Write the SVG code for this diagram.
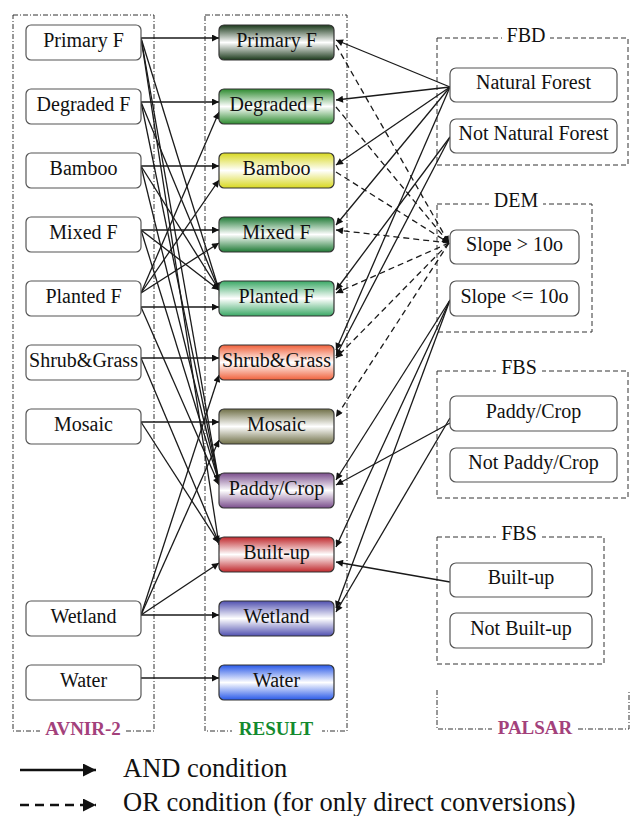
<svg xmlns="http://www.w3.org/2000/svg" width="630" height="816" viewBox="0 0 630 816">
<style>
text{font-family:'Liberation Serif','Times New Roman',serif}
.n{fill:#fff;stroke:#555;stroke-width:1.2}
.r{stroke:#333;stroke-width:1.2}
.t{font-size:20px;fill:#111;text-anchor:middle}
.lb{font-size:19px;font-weight:bold;text-anchor:middle}
.gl{font-size:20px;fill:#111;text-anchor:middle}
.lg{font-size:26.5px;fill:#111}
.c{stroke:#1a1a1a;stroke-width:1.3;fill:none;marker-end:url(#ah)}
.d{stroke-dasharray:6 4}
.gb{fill:none;stroke:#333;stroke-width:1;stroke-dasharray:5 3}
.dd{fill:none;stroke:#333;stroke-width:1;stroke-dasharray:5 2 1 2}
</style>
<defs>
<marker id="ah" viewBox="0 0 10 10" refX="10" refY="5" markerWidth="10" markerHeight="7" markerUnits="userSpaceOnUse" orient="auto"><path d="M0,0 L10,5 L0,10 z" fill="#111"/></marker>
<marker id="ahL" viewBox="0 0 10 10" refX="10" refY="5" markerWidth="16" markerHeight="13" markerUnits="userSpaceOnUse" orient="auto"><path d="M0,0 L10,5 L0,10 z" fill="#111"/></marker>
<linearGradient id="g1" x1="0" y1="0" x2="0" y2="1"><stop offset="0" stop-color="#1c3a1c"/><stop offset="0.5" stop-color="#fff"/><stop offset="1" stop-color="#1c3a1c"/></linearGradient>
<linearGradient id="g2" x1="0" y1="0" x2="0" y2="1"><stop offset="0" stop-color="#2e8b30"/><stop offset="0.5" stop-color="#fff"/><stop offset="1" stop-color="#2e8b30"/></linearGradient>
<linearGradient id="g3" x1="0" y1="0" x2="0" y2="1"><stop offset="0" stop-color="#d8d820"/><stop offset="0.5" stop-color="#fff"/><stop offset="1" stop-color="#d8d820"/></linearGradient>
<linearGradient id="g4" x1="0" y1="0" x2="0" y2="1"><stop offset="0" stop-color="#1f7a35"/><stop offset="0.5" stop-color="#fff"/><stop offset="1" stop-color="#1f7a35"/></linearGradient>
<linearGradient id="g5" x1="0" y1="0" x2="0" y2="1"><stop offset="0" stop-color="#3aa865"/><stop offset="0.5" stop-color="#fff"/><stop offset="1" stop-color="#3aa865"/></linearGradient>
<linearGradient id="g6" x1="0" y1="0" x2="0" y2="1"><stop offset="0" stop-color="#f0603a"/><stop offset="0.5" stop-color="#fff"/><stop offset="1" stop-color="#f0603a"/></linearGradient>
<linearGradient id="g7" x1="0" y1="0" x2="0" y2="1"><stop offset="0" stop-color="#707048"/><stop offset="0.5" stop-color="#fff"/><stop offset="1" stop-color="#707048"/></linearGradient>
<linearGradient id="g8" x1="0" y1="0" x2="0" y2="1"><stop offset="0" stop-color="#7a4d8c"/><stop offset="0.5" stop-color="#fff"/><stop offset="1" stop-color="#7a4d8c"/></linearGradient>
<linearGradient id="g9" x1="0" y1="0" x2="0" y2="1"><stop offset="0" stop-color="#c0282c"/><stop offset="0.5" stop-color="#fff"/><stop offset="1" stop-color="#c0282c"/></linearGradient>
<linearGradient id="g10" x1="0" y1="0" x2="0" y2="1"><stop offset="0" stop-color="#5050b0"/><stop offset="0.5" stop-color="#fff"/><stop offset="1" stop-color="#5050b0"/></linearGradient>
<linearGradient id="g11" x1="0" y1="0" x2="0" y2="1"><stop offset="0" stop-color="#2858e8"/><stop offset="0.5" stop-color="#fff"/><stop offset="1" stop-color="#2858e8"/></linearGradient>
</defs>
<rect width="630" height="816" fill="#fff"/>

<g id="groups">
<rect class="dd" x="13" y="15" width="141" height="716"/>
<rect x="40" y="720" width="86" height="20" fill="#fff"/>
<text class="lb" x="83" y="735" fill="#a3417b">AVNIR-2</text>
<rect class="dd" x="205" y="15" width="142" height="716"/>
<rect x="232" y="720" width="90" height="20" fill="#fff"/>
<text class="lb" x="276" y="735" fill="#138a2e">RESULT</text>
<path class="dd" d="M437,690 V729 H629 V690"/>
<rect x="492" y="720" width="86" height="20" fill="#fff"/>
<text class="lb" x="535" y="734" fill="#a3417b">PALSAR</text>
<rect class="gb" x="437" y="38" width="191" height="127"/>
<rect x="502" y="26" width="48" height="20" fill="#fff"/>
<text class="gl" x="526" y="42">FBD</text>
<rect class="gb" x="437" y="204" width="155" height="128"/>
<rect x="489" y="192" width="54" height="20" fill="#fff"/>
<text class="gl" x="516" y="207">DEM</text>
<rect class="gb" x="437" y="371" width="191" height="127"/>
<rect x="496" y="359" width="46" height="20" fill="#fff"/>
<text class="gl" x="519" y="374">FBS</text>
<rect class="gb" x="437" y="537" width="167" height="127"/>
<rect x="496" y="525" width="46" height="20" fill="#fff"/>
<text class="gl" x="519" y="540">FBS</text>
</g>

<g id="connectors">
<path class="c" d="M141,38 L219,38"/>
<path class="c" d="M141,38 L219,290"/>
<path class="c" d="M141,38 L219,482"/>
<path class="c" d="M141,38 L219,545"/>
<path class="c" d="M141,102 L219,102"/>
<path class="c" d="M141,102 L219,290"/>
<path class="c" d="M141,102 L219,482"/>
<path class="c" d="M141,166 L219,166"/>
<path class="c" d="M141,166 L219,290"/>
<path class="c" d="M141,166 L219,482"/>
<path class="c" d="M141,230 L219,230"/>
<path class="c" d="M141,230 L219,290"/>
<path class="c" d="M141,230 L219,482"/>
<path class="c" d="M141,293 L219,112"/>
<path class="c" d="M141,293 L219,180"/>
<path class="c" d="M141,293 L219,243"/>
<path class="c" d="M141,307 L219,307"/>
<path class="c" d="M141,307 L219,485"/>
<path class="c" d="M141,358 L219,358"/>
<path class="c" d="M141,358 L219,543"/>
<path class="c" d="M141,422 L219,422"/>
<path class="c" d="M141,422 L219,543"/>
<path class="c" d="M141,615 L219,375"/>
<path class="c" d="M141,615 L219,440"/>
<path class="c" d="M141,615 L219,563"/>
<path class="c" d="M141,615 L219,615"/>
<path class="c" d="M141,678 L219,678"/>

<path class="c" d="M450,87 L336,40"/>
<path class="c" d="M450,87 L336,100"/>
<path class="c" d="M450,87 L336,165"/>
<path class="c" d="M450,87 L336,225"/>
<path class="c" d="M450,87 L336,350"/>
<path class="c" d="M450,137 L336,290"/>
<path class="c" d="M450,137 L336,356"/>
<path class="c" d="M450,300 L336,480"/>
<path class="c" d="M450,300 L336,547"/>
<path class="c" d="M450,300 L336,608"/>
<path class="c" d="M450,418 L336,612"/>
<path class="c" d="M450,423 L336,485"/>
<path class="c" d="M450,582 L336,562"/>

<path class="c d" d="M336,45 L449,243"/>
<path class="c d" d="M336,107 L449,243"/>
<path class="c d" d="M336,172 L449,243"/>
<path class="c d" d="M449,243 L336,230"/>
<path class="c d" d="M449,243 L336,293"/>
<path class="c d" d="M449,243 L336,358"/>
<path class="c d" d="M449,243 L336,417"/>
</g>

<g id="avnir-nodes">
<g id="a-primary"><rect class="n" x="26" y="25" width="115" height="35" rx="5"/><text class="t" x="83.5" y="47">Primary F</text></g>
<g id="a-degraded"><rect class="n" x="26" y="89" width="115" height="35" rx="5"/><text class="t" x="83.5" y="111">Degraded F</text></g>
<g id="a-bamboo"><rect class="n" x="26" y="153" width="115" height="35" rx="5"/><text class="t" x="83.5" y="175">Bamboo</text></g>
<g id="a-mixed"><rect class="n" x="26" y="217" width="115" height="35" rx="5"/><text class="t" x="83.5" y="239">Mixed F</text></g>
<g id="a-planted"><rect class="n" x="26" y="281" width="115" height="35" rx="5"/><text class="t" x="83.5" y="303">Planted F</text></g>
<g id="a-shrub"><rect class="n" x="26" y="345" width="115" height="35" rx="5"/><text class="t" x="83.5" y="367">Shrub&amp;Grass</text></g>
<g id="a-mosaic"><rect class="n" x="26" y="409" width="115" height="35" rx="5"/><text class="t" x="83.5" y="431">Mosaic</text></g>
<g id="a-wetland"><rect class="n" x="26" y="601" width="115" height="35" rx="5"/><text class="t" x="83.5" y="623">Wetland</text></g>
<g id="a-water"><rect class="n" x="26" y="665" width="115" height="35" rx="5"/><text class="t" x="83.5" y="687">Water</text></g>
</g>

<g id="result-nodes">
<g id="r-primary"><rect class="r" fill="url(#g1)" x="219" y="25" width="115" height="35" rx="5"/><text class="t" x="276.5" y="47">Primary F</text></g>
<g id="r-degraded"><rect class="r" fill="url(#g2)" x="219" y="89" width="115" height="35" rx="5"/><text class="t" x="276.5" y="111">Degraded F</text></g>
<g id="r-bamboo"><rect class="r" fill="url(#g3)" x="219" y="153" width="115" height="35" rx="5"/><text class="t" x="276.5" y="175">Bamboo</text></g>
<g id="r-mixed"><rect class="r" fill="url(#g4)" x="219" y="217" width="115" height="35" rx="5"/><text class="t" x="276.5" y="239">Mixed F</text></g>
<g id="r-planted"><rect class="r" fill="url(#g5)" x="219" y="281" width="115" height="35" rx="5"/><text class="t" x="276.5" y="303">Planted F</text></g>
<g id="r-shrub"><rect class="r" fill="url(#g6)" x="219" y="345" width="115" height="35" rx="5"/><text class="t" x="276.5" y="367">Shrub&amp;Grass</text></g>
<g id="r-mosaic"><rect class="r" fill="url(#g7)" x="219" y="409" width="115" height="35" rx="5"/><text class="t" x="276.5" y="431">Mosaic</text></g>
<g id="r-paddy"><rect class="r" fill="url(#g8)" x="219" y="473" width="115" height="35" rx="5"/><text class="t" x="276.5" y="495">Paddy/Crop</text></g>
<g id="r-builtup"><rect class="r" fill="url(#g9)" x="219" y="537" width="115" height="35" rx="5"/><text class="t" x="276.5" y="559">Built-up</text></g>
<g id="r-wetland"><rect class="r" fill="url(#g10)" x="219" y="601" width="115" height="35" rx="5"/><text class="t" x="276.5" y="623">Wetland</text></g>
<g id="r-water"><rect class="r" fill="url(#g11)" x="219" y="665" width="115" height="35" rx="5"/><text class="t" x="276.5" y="687">Water</text></g>
</g>

<g id="palsar-nodes">
<g id="p-natural"><rect class="n" x="450" y="68" width="167" height="34" rx="6"/><text class="t" x="533.5" y="89">Natural Forest</text></g>
<g id="p-notnatural"><rect class="n" x="450" y="119" width="167" height="34" rx="6"/><text class="t" x="533.5" y="140">Not Natural Forest</text></g>
<g id="p-slopegt"><rect class="n" x="450" y="230" width="129" height="34" rx="6"/><text class="t" x="514.5" y="251">Slope &gt; 10o</text></g>
<g id="p-slopele"><rect class="n" x="450" y="281" width="129" height="35" rx="6"/><text class="t" x="514.5" y="303">Slope &lt;= 10o</text></g>
<g id="p-paddy"><rect class="n" x="450" y="396" width="167" height="35" rx="6"/><text class="t" x="533.5" y="418">Paddy/Crop</text></g>
<g id="p-notpaddy"><rect class="n" x="450" y="448" width="167" height="34" rx="6"/><text class="t" x="533.5" y="469">Not Paddy/Crop</text></g>
<g id="p-builtup"><rect class="n" x="450" y="563" width="142" height="34" rx="6"/><text class="t" x="521" y="584">Built-up</text></g>
<g id="p-notbuiltup"><rect class="n" x="450" y="613" width="142" height="35" rx="6"/><text class="t" x="521" y="635">Not Built-up</text></g>
</g>

<g id="legend">
<path d="M20,770 L96,770" stroke="#111" stroke-width="2.5" marker-end="url(#ahL)"/>
<text class="lg" x="123" y="777">AND condition</text>
<path d="M20,805 L96,805" stroke="#111" stroke-width="2.5" stroke-dasharray="9 6" marker-end="url(#ahL)"/>
<text class="lg" x="123" y="811">OR condition (for only direct conversions)</text>
</g>
</svg>
